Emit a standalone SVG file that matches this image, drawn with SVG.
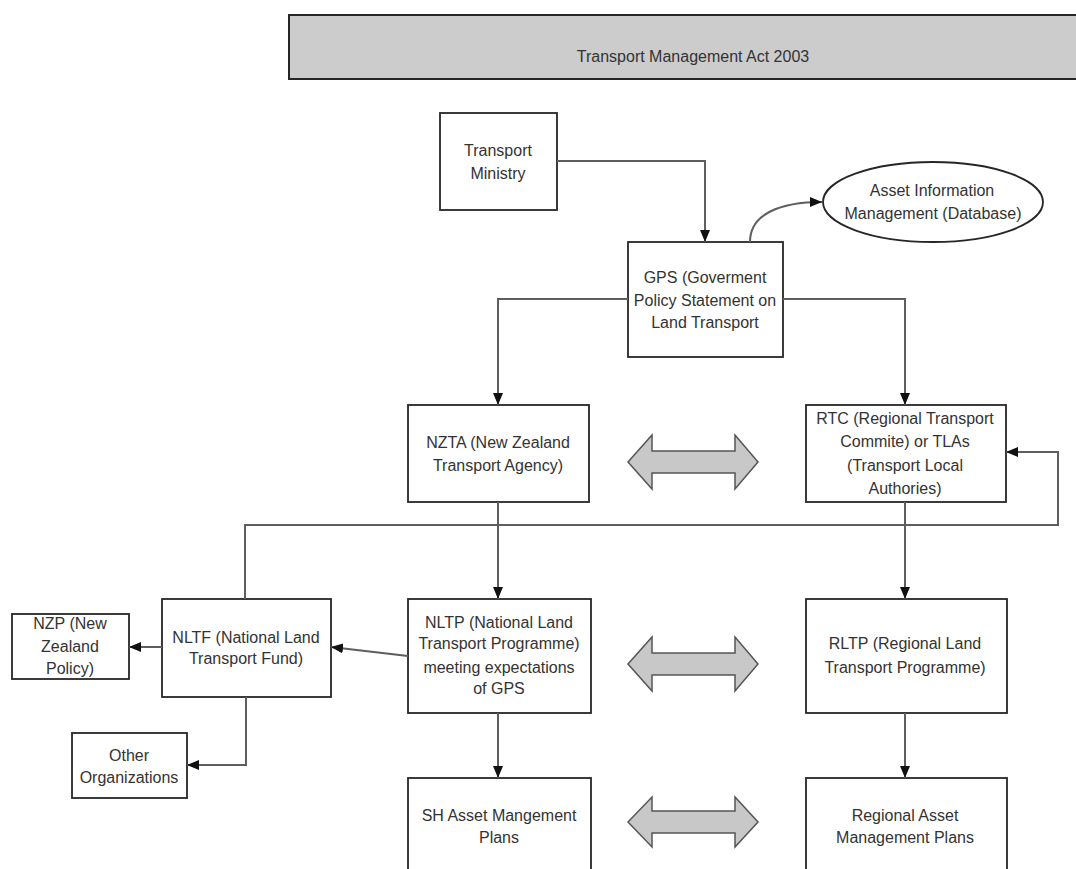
<svg xmlns="http://www.w3.org/2000/svg" width="1076" height="869" viewBox="0 0 1076 869">
<style>
.box{fill:#ffffff;stroke:#262626;stroke-width:1.8}
.banner{fill:#cccccc;stroke:#262626;stroke-width:2}
.t{font-family:"Liberation Sans",Arial,sans-serif;font-size:16px;fill:#333333;text-anchor:middle}
.ln{fill:none;stroke:#5e5e5e;stroke-width:2}
.dbl{fill:#c8c8c8;stroke:#555555;stroke-width:1.5}
</style>
<defs>
<marker id="ah" viewBox="0 0 12 10" markerWidth="12" markerHeight="10" refX="12" refY="5" orient="auto" markerUnits="userSpaceOnUse">
<path d="M0,0 L12,5 L0,10 Z" fill="#111111"/>
</marker>
</defs>
<rect width="1076" height="869" fill="#ffffff"/>

<g id="banner">
<rect class="banner" x="289" y="15" width="810" height="64"/>
<text class="t" x="693" y="62">Transport Management Act 2003</text>
</g>

<g id="transport-ministry">
<rect class="box" x="440" y="113" width="117" height="97"/>
<text class="t"><tspan x="498" y="155.5">Transport</tspan><tspan x="498" y="178.5">Ministry</tspan></text>
</g>

<g id="gps">
<rect class="box" x="628" y="242" width="155" height="115"/>
<text class="t"><tspan x="705" y="282.5">GPS (Goverment</tspan><tspan x="705" y="305.5">Policy Statement on</tspan><tspan x="705" y="328">Land Transport</tspan></text>
</g>

<g id="asset-info">
<ellipse cx="933" cy="202" rx="110" ry="40" fill="#ffffff" stroke="#262626" stroke-width="1.8"/>
<text class="t"><tspan x="932" y="195.5">Asset Information</tspan><tspan x="933" y="218.5">Management (Database)</tspan></text>
</g>

<g id="nzta">
<rect class="box" x="408" y="405" width="181" height="97"/>
<text class="t"><tspan x="498" y="447.5">NZTA (New Zealand</tspan><tspan x="498" y="470.5">Transport Agency)</tspan></text>
</g>

<g id="rtc">
<rect class="box" x="806" y="405" width="200" height="97"/>
<text class="t"><tspan x="905" y="423.5">RTC (Regional Transport</tspan><tspan x="905" y="447">Commite) or TLAs</tspan><tspan x="905" y="470.5">(Transport Local</tspan><tspan x="905" y="493.5">Authories)</tspan></text>
</g>

<g id="nltp">
<rect class="box" x="408" y="599" width="183" height="114"/>
<text class="t"><tspan x="499" y="627.5">NLTP (National Land</tspan><tspan x="499" y="649">Transport Programme)</tspan><tspan x="499" y="672.5">meeting expectations</tspan><tspan x="499" y="694">of GPS</tspan></text>
</g>

<g id="rltp">
<rect class="box" x="806" y="599" width="201" height="114"/>
<text class="t"><tspan x="905" y="648.5">RLTP (Regional Land</tspan><tspan x="905" y="672.5">Transport Programme)</tspan></text>
</g>

<g id="nltf">
<rect class="box" x="162" y="599" width="169" height="98"/>
<text class="t"><tspan x="246" y="642.5">NLTF (National Land</tspan><tspan x="246" y="663.5">Transport Fund)</tspan></text>
</g>

<g id="nzp">
<rect class="box" x="12" y="614" width="117" height="65"/>
<text class="t"><tspan x="70" y="628.5">NZP (New</tspan><tspan x="70" y="651.5">Zealand</tspan><tspan x="70" y="673.5">Policy)</tspan></text>
</g>

<g id="other-orgs">
<rect class="box" x="72" y="733" width="115" height="65"/>
<text class="t"><tspan x="129" y="760.5">Other</tspan><tspan x="129" y="782.5">Organizations</tspan></text>
</g>

<g id="sh-amp">
<rect class="box" x="408" y="778" width="183" height="110"/>
<text class="t"><tspan x="499" y="820.5">SH Asset Mangement</tspan><tspan x="499" y="842.5">Plans</tspan></text>
</g>

<g id="regional-amp">
<rect class="box" x="806" y="778" width="201" height="110"/>
<text class="t"><tspan x="905" y="820.5">Regional Asset</tspan><tspan x="905" y="842.5">Management Plans</tspan></text>
</g>

<g id="connectors">
<path class="ln" d="M557,161 H705 V242" marker-end="url(#ah)"/>
<path class="ln" d="M750,242 C750,214 780,202 822,202" marker-end="url(#ah)"/>
<path class="ln" d="M628,299 H498 V405" marker-end="url(#ah)"/>
<path class="ln" d="M783,299 H905 V405" marker-end="url(#ah)"/>
<path class="ln" d="M498,502 V599" marker-end="url(#ah)"/>
<path class="ln" d="M905,502 V599" marker-end="url(#ah)"/>
<path class="ln" d="M245,599 V525 H1058 V452 H1006" marker-end="url(#ah)"/>
<path class="ln" d="M408,656 L331,647" marker-end="url(#ah)"/>
<path class="ln" d="M162,647 H129" marker-end="url(#ah)"/>
<path class="ln" d="M246,697 V765 H187" marker-end="url(#ah)"/>
<path class="ln" d="M498,713 V778" marker-end="url(#ah)"/>
<path class="ln" d="M905,713 V778" marker-end="url(#ah)"/>
<path class="dbl" d="M628,462 L652,435 L652,451 L735,451 L735,435 L758,462 L735,489 L735,473 L652,473 L652,489 Z"/>
<path class="dbl" d="M628,664 L652,637 L652,653 L735,653 L735,637 L758,664 L735,691 L735,675 L652,675 L652,691 Z"/>
<path class="dbl" d="M628,822 L652,797 L652,811 L735,811 L735,797 L758,822 L735,847 L735,833 L652,833 L652,847 Z"/>
</g>
</svg>
